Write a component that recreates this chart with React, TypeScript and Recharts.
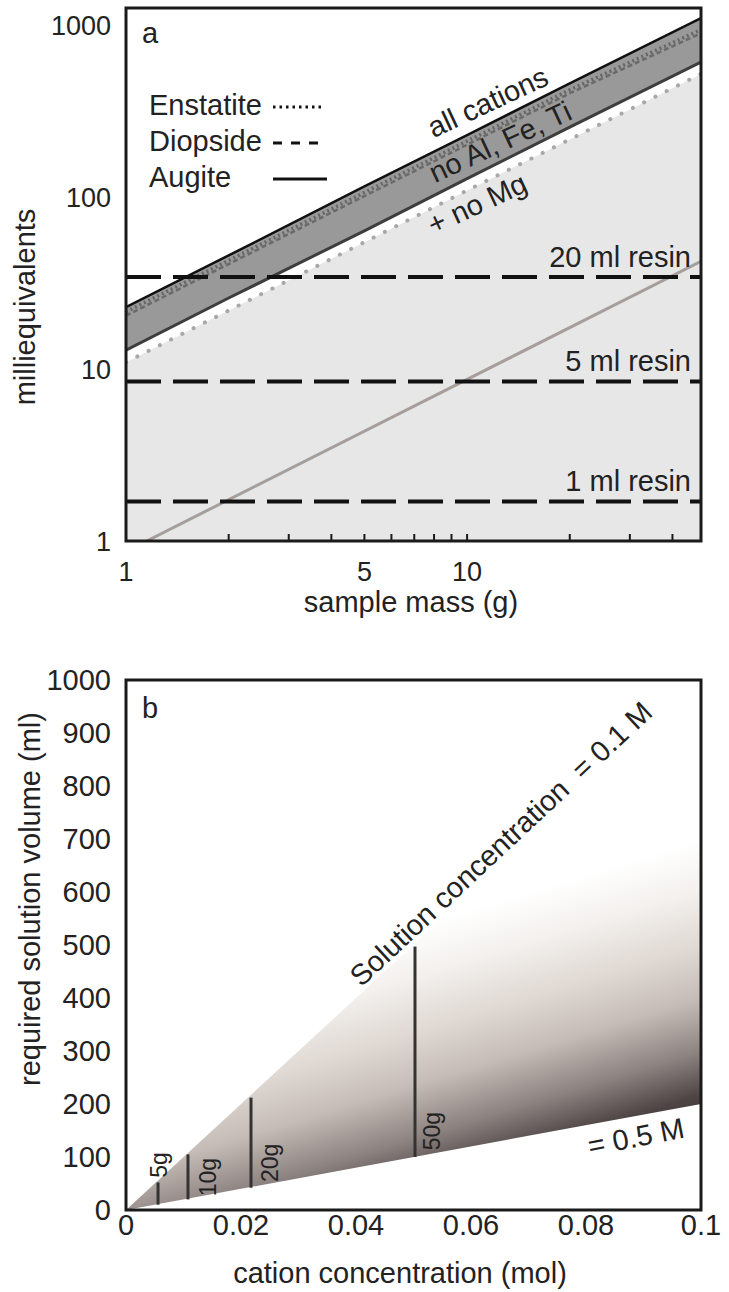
import {
  Area,
  ComposedChart,
  Legend,
  Line,
  ReferenceArea,
  ReferenceDot,
  ReferenceLine,
  XAxis,
  YAxis,
} from "recharts"

const FONT = '"Liberation Sans", Arial, Helvetica, sans-serif'
const INK = "#222"

// panel a: milliequivalents vs sample mass (log-log)
const massTicks = [1, 2, 3, 4, 5, 6, 7, 8, 9, 10, 20, 30, 40]
const massLabels = [1, 5, 10]
const meqTicks = [1, 10, 100, 1000]
const massPoints = [1, 2, 5, 10, 20, 48.5]
const augiteAllCations = [23, 46, 116, 231, 462, 1110]
const enstatiteAllCations = [21.6, 43, 107, 213, 424, 950]
const diopsideAllCations = [20.5, 41, 102, 203, 405, 905]
const augiteNoAlFeTi = [12.9, 26, 64, 129, 257, 615]
const plusNoMg = [11, 22, 55, 110, 218, 525]
const sampleMass = [1.15, 48.5]
const sampleMeq = [1, 42.5]
const resinLabels = ["1 ml resin", "5 ml resin", "20 ml resin"]
const resinMeq = [1.7, 8.5, 34.5]
const legendNames = ["Enstatite", "Diopside", "Augite"]

// panel b: required solution volume vs cation concentration
const molTicks = [0, 0.02, 0.04, 0.06, 0.08, 0.1]
const volTicks = [0, 100, 200, 300, 400, 500, 600, 700, 800, 900, 1000]
const molEnds = [0, 0.1]
const vol01M = [0, 1000]
const vol05M = [0, 200]
const massSteps = ["5g", "10g", "20g", "50g"]
const stepMol = [0.00557, 0.01078, 0.02174, 0.05026]
const stepVolLow = [10, 20, 42, 100]
const stepVolHigh = [52, 105, 212, 497]

const panelARows = massPoints.map((mass, i) => ({
  mass,
  augite: augiteAllCations[i],
  enstatite: enstatiteAllCations[i],
  diopside: diopsideAllCations[i],
  noAlFeTi: augiteNoAlFeTi[i],
  noMg: plusNoMg[i],
  band: [augiteNoAlFeTi[i], augiteAllCations[i]],
  light: [1, plusNoMg[i]],
}))

const sampleRows = sampleMass.map((mass, i) => ({ mass, meq: sampleMeq[i] }))

const panelBRows = molEnds.map((mol, i) => ({ mol, vol: [vol05M[i], vol01M[i]] }))

// annotation anchors (data coordinates)
const panelANotes = [
  { text: "all cations", mass: 11.5, meq: 360, angle: -25 },
  { text: "no Al, Fe, Ti", mass: 12.5, meq: 211, angle: -25 },
  { text: "+ no Mg", mass: 10.7, meq: 92, angle: -25 },
]
const panelBNotes = [
  { text: "Solution concentration  = 0.1 M", mol: 0.0652, vol: 691, angle: -43, size: 29 },
  { text: "= 0.5 M", mol: 0.0887, vol: 138, angle: -11, size: 29 },
  { text: "5g", mol: 0.00574, vol: 85, angle: -90, size: 23 },
  { text: "10g", mol: 0.01426, vol: 62, angle: -90, size: 23 },
  { text: "20g", mol: 0.02504, vol: 89, angle: -90, size: 23 },
  { text: "50g", mol: 0.05322, vol: 149, angle: -90, size: 23 },
]

const legendStyles = [
  { dash: "2.5 4", width: 3, length: 50 },
  { dash: "9 9", width: 3, length: 45 },
  { dash: undefined, width: 3, length: 54 },
]

function tiltedText(text: string, angle: number, size = 29) {
  return (props: any) => {
    const vb = props.viewBox || {}
    const cx = (vb.x || 0) + (vb.width || 0) / 2
    const cy = (vb.y || 0) + (vb.height || 0) / 2
    return (
      <text
        x={cx}
        y={cy}
        transform={angle ? `rotate(${angle} ${cx} ${cy})` : undefined}
        textAnchor="middle"
        dominantBaseline="central"
        fontSize={size}
        fill={INK}
        fontFamily={FONT}
        style={{ whiteSpace: "pre" }}
      >
        {text}
      </text>
    )
  }
}

function axisTitle(text: string, dx: number, dy: number, angle = 0) {
  return (props: any) => {
    const vb = props.viewBox || {}
    const x = (vb.x || 0) + dx
    const y = (vb.y || 0) + dy
    return (
      <text
        x={x}
        y={y}
        transform={angle ? `rotate(${angle} ${x} ${y})` : undefined}
        textAnchor="middle"
        fontSize={29}
        fill={INK}
        fontFamily={FONT}
      >
        {text}
      </text>
    )
  }
}

function MassTick({ x, y, payload }: any) {
  return (
    <g>
      <line x1={x} y1={y} x2={x} y2={y - 7} stroke="#1a1a1a" strokeWidth={2} />
      {massLabels.includes(payload.value) ? (
        <text x={x} y={y + 40} textAnchor="middle" fontSize={27} fill={INK} fontFamily={FONT}>
          {payload.value}
        </text>
      ) : null}
    </g>
  )
}

function MineralLegend() {
  return (
    <div style={{ fontSize: 29, lineHeight: "36px", color: INK, fontFamily: FONT }}>
      {legendNames.map((name, i) => (
        <div key={name} style={{ display: "flex", alignItems: "center", height: 36 }}>
          <span style={{ width: 124, display: "inline-block" }}>{name}</span>
          <svg width={60} height={36} style={{ display: "block" }}>
            <line
              x1={0}
              x2={legendStyles[i].length}
              y1={20}
              y2={20}
              stroke="#111"
              strokeWidth={legendStyles[i].width}
              strokeDasharray={legendStyles[i].dash}
            />
          </svg>
        </div>
      ))}
    </div>
  )
}

function PanelA() {
  return (
    <ComposedChart
      width={729}
      height={620}
      data={panelARows}
      margin={{ top: 8, right: 28, bottom: 0, left: 0 }}
      style={{ fontFamily: FONT }}
    >
      <XAxis
        dataKey="mass"
        type="number"
        scale="log"
        domain={[1, 48.5]}
        ticks={massTicks}
        interval={0}
        allowDataOverflow
        axisLine={false}
        tickLine={false}
        tickSize={0}
        tickMargin={0}
        height={79}
        tick={<MassTick />}
        label={axisTitle("sample mass (g)", 285, 71)}
      />
      <YAxis
        type="number"
        scale="log"
        domain={[1, 1270]}
        ticks={meqTicks}
        interval={0}
        allowDataOverflow
        axisLine={false}
        tickLine={false}
        tickSize={0}
        tickMargin={15}
        width={126}
        tick={{ fontSize: 27, fill: INK, fontFamily: FONT }}
        label={axisTitle("milliequivalents", 35, 299, -90)}
      />
      <Legend
        layout="vertical"
        align="center"
        verticalAlign="middle"
        content={<MineralLegend />}
        wrapperStyle={{ left: 149, top: 87, width: 200, height: 108 }}
      />
      <Area type="linear" dataKey="light" fill="#e7e7e7" fillOpacity={1} stroke="none" isAnimationActive={false} legendType="none" />
      <Area type="linear" dataKey="band" fill="#999999" fillOpacity={1} stroke="none" isAnimationActive={false} legendType="none" />
      <Line
        type="linear"
        dataKey="noMg"
        stroke="#a8a8a8"
        strokeWidth={4}
        strokeDasharray="0.1 12.5"
        strokeLinecap="round"
        dot={false}
        isAnimationActive={false}
      />
      <Line
        type="linear"
        dataKey="diopside"
        stroke="#6a6a6a"
        strokeWidth={2.5}
        strokeDasharray="5 3"
        dot={false}
        isAnimationActive={false}
      />
      <Line
        type="linear"
        dataKey="enstatite"
        stroke="#666"
        strokeWidth={3.5}
        strokeDasharray="2 3"
        dot={false}
        isAnimationActive={false}
      />
      <Line type="linear" dataKey="noAlFeTi" stroke="#3d3d3d" strokeWidth={3} dot={false} isAnimationActive={false} />
      <Line type="linear" dataKey="augite" stroke="#111" strokeWidth={2.5} dot={false} isAnimationActive={false} />
      <Line
        type="linear"
        data={sampleRows}
        dataKey="meq"
        stroke="#a59e9a"
        strokeWidth={3}
        dot={false}
        isAnimationActive={false}
      />
      {resinMeq.map((meq, i) => (
        <ReferenceLine
          key={resinLabels[i]}
          y={meq}
          stroke="#111"
          strokeWidth={4}
          strokeDasharray="35 12"
          label={{
            value: resinLabels[i],
            position: "insideBottomRight",
            offset: 10,
            fontSize: 29,
            fill: INK,
            fontFamily: FONT,
          }}
        />
      ))}
      {panelANotes.map((note) => (
        <ReferenceDot
          key={note.text}
          x={note.mass}
          y={note.meq}
          r={0}
          fill="none"
          stroke="none"
          label={tiltedText(note.text, note.angle)}
        />
      ))}
      <ReferenceDot x={1.176} y={909} r={0} fill="none" stroke="none" label={tiltedText("a", 0)} />
      <ReferenceArea
        x1={1}
        x2={48.5}
        y1={1}
        y2={1270}
        fill="none"
        fillOpacity={0}
        stroke="#1a1a1a"
        strokeWidth={3}
        ifOverflow="visible"
        zIndex={1500}
      />
    </ComposedChart>
  )
}

function PanelB() {
  return (
    <ComposedChart
      width={729}
      height={672}
      data={panelBRows}
      margin={{ top: 60, right: 28, bottom: 0, left: 0 }}
      style={{ fontFamily: FONT }}
    >
      <defs>
        <linearGradient id="concFill" x1="1" y1="0.302" x2="1.15" y2="0.758">
          <stop offset="0" stopColor="#ffffff" />
          <stop offset="0.19" stopColor="#f3f0ed" />
          <stop offset="0.39" stopColor="#e0d9d4" />
          <stop offset="0.59" stopColor="#c5bcb7" />
          <stop offset="0.79" stopColor="#8c8280" />
          <stop offset="0.95" stopColor="#4f4545" />
          <stop offset="1" stopColor="#463d3d" />
        </linearGradient>
      </defs>
      <XAxis
        dataKey="mol"
        type="number"
        domain={[0, 0.1]}
        ticks={molTicks}
        interval={0}
        allowDataOverflow
        axisLine={false}
        tickLine={false}
        tickSize={0}
        tickMargin={4}
        height={82}
        tickFormatter={(v) => String(v)}
        tick={{ fontSize: 29, fill: INK, fontFamily: FONT }}
        label={axisTitle("cation concentration (mol)", 274, 73)}
      />
      <YAxis
        type="number"
        domain={[0, 1000]}
        ticks={volTicks}
        interval={0}
        allowDataOverflow
        axisLine={false}
        tickLine={false}
        tickSize={0}
        tickMargin={15}
        width={126}
        tick={{ fontSize: 29, fill: INK, fontFamily: FONT }}
        label={axisTitle("required solution volume (ml)", 40, 219, -90)}
      />
      <Area
        type="linear"
        dataKey="vol"
        fill="url(#concFill)"
        fillOpacity={1}
        stroke="none"
        isAnimationActive={false}
      />
      {massSteps.map((name, i) => (
        <ReferenceLine
          key={name}
          segment={[
            { x: stepMol[i], y: stepVolLow[i] },
            { x: stepMol[i], y: stepVolHigh[i] },
          ]}
          stroke="#333"
          strokeWidth={3}
        />
      ))}
      {panelBNotes.map((note) => (
        <ReferenceDot
          key={note.text}
          x={note.mol}
          y={note.vol}
          r={0}
          fill="none"
          stroke="none"
          label={tiltedText(note.text, note.angle, note.size)}
        />
      ))}
      <ReferenceDot x={0.00417} y={947} r={0} fill="none" stroke="none" label={tiltedText("b", 0)} />
      <ReferenceArea
        x1={0}
        x2={0.1}
        y1={0}
        y2={1000}
        fill="none"
        fillOpacity={0}
        stroke="#1a1a1a"
        strokeWidth={3}
        ifOverflow="visible"
        zIndex={1500}
      />
    </ComposedChart>
  )
}

export default function App() {
  return (
    <div
      style={{
        position: "absolute",
        left: 0,
        top: 0,
        width: 729,
        height: 1292,
        background: "#fff",
        fontFamily: FONT,
        overflow: "hidden",
      }}
    >
      <div style={{ position: "absolute", left: 0, top: 0 }}>
        <PanelA />
      </div>
      <div style={{ position: "absolute", left: 0, top: 620 }}>
        <PanelB />
      </div>
    </div>
  )
}
